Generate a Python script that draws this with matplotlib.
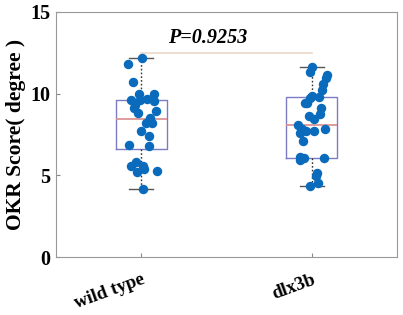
import matplotlib.pyplot as plt
import numpy as np

# group names and box statistics
groups = ["wild type", "dlx3b"]
q1 = [6.6, 6.08]
med = [8.47, 8.10]
q3 = [9.6, 9.82]
lo = [4.16, 4.35]
hi = [12.19, 11.65]

# scattered points (x jitter relative to the group centre, y value)
wt_y = [12.19, 11.84, 10.7, 9.96, 10.0, 9.61, 9.61, 9.67, 9.55, 9.31, 9.1, 8.82, 8.96, 8.49,
        8.33, 8.2, 8.19, 7.70, 7.41, 6.84, 6.82, 5.84, 5.59, 5.55, 5.39, 5.19, 5.28, 4.16]
wt_dx = [0.004, -0.08, -0.05, -0.013, 0.072, -0.058, -0.01, 0.035, 0.077, -0.037, -0.045, -0.022,
         0.084, 0.054, 0.047, 0.027, 0.064, -0.002, 0.047, -0.07, 0.043, -0.033, -0.06, 0.013,
         0.019, -0.025, 0.092, 0.008]
mut_y = [11.65, 11.31, 11.17, 10.98, 10.59, 10.23, 9.86, 9.72, 9.8, 9.45, 9.41, 9.12, 8.76, 8.63,
         8.45, 8.10, 7.82, 7.73, 7.72, 7.86, 7.57, 7.08, 6.1, 5.94, 6.08, 6.08, 5.16, 4.98, 4.51, 4.33]
mut_dx = [0.004, -0.008, 0.092, 0.086, 0.066, 0.06, 0.002, -0.012, 0.042, -0.025, -0.037, 0.053,
          0.047, -0.018, 0.011, -0.08, -0.055, -0.032, 0.015, 0.08, -0.066, -0.05, -0.07, -0.066,
          -0.045, 0.074, 0.033, 0.027, 0.039, -0.012]
p_text = "P=0.9253"
p_y = 12.47

plt.rcParams['font.family'] = ['Liberation Serif', 'DejaVu Serif']

fig = plt.figure(figsize=(4.03, 3.15), dpi=100)
ax = fig.add_axes([0.139, 0.184, 0.846, 0.778])

stats = []
for i in range(2):
    stats.append({'med': med[i], 'q1': q1[i], 'q3': q3[i], 'whislo': lo[i], 'whishi': hi[i], 'fliers': []})
ax.bxp(stats, positions=[1, 2], widths=0.30, showfliers=False,
       boxprops=dict(color='#7b7bc4', lw=1.0),
       medianprops=dict(color='#d98c8c', lw=1.2),
       whiskerprops=dict(color='#333333', lw=1.0, linestyle=(0, (1.2, 1.5))),
       capprops=dict(color='#555555', lw=1.0), capwidths=0.14)

ax.plot(1 + np.array(wt_dx), wt_y, 'o', color='#0a6bbd', ms=5.8, zorder=3)
ax.plot(2 + np.array(mut_dx), mut_y, 'o', color='#0a6bbd', ms=5.8, zorder=3)

ax.plot([1.0, 2.0], [p_y, p_y], color='#ead8c8', lw=1.2, zorder=1)
ax.text(1.155, p_y + 0.3, p_text, fontsize=14.5, fontweight='bold', fontstyle='italic', ha='left', va='bottom')

ax.set_xlim(0.5, 2.5)
ax.set_ylim(0, 15)
ax.set_yticks([0, 5, 10, 15])
ax.set_xticks([1, 2])
ax.set_xticklabels(groups, rotation=20, fontsize=13.5, fontweight='bold',
                   ha='right', va='top', rotation_mode='anchor')
ax.tick_params(axis='y', labelsize=14.5, direction='in', length=3, color='#888888', pad=4)
ax.tick_params(axis='x', direction='in', length=3, color='#888888', pad=10)
for lab in ax.get_yticklabels():
    lab.set_fontweight('bold')
ax.set_ylabel("OKR Score( degree )", fontsize=15.5, fontweight='bold', labelpad=3)
for s in ax.spines.values():
    s.set_color('#999999')
    s.set_linewidth(0.8)

fig.savefig('out.png', dpi=100)
